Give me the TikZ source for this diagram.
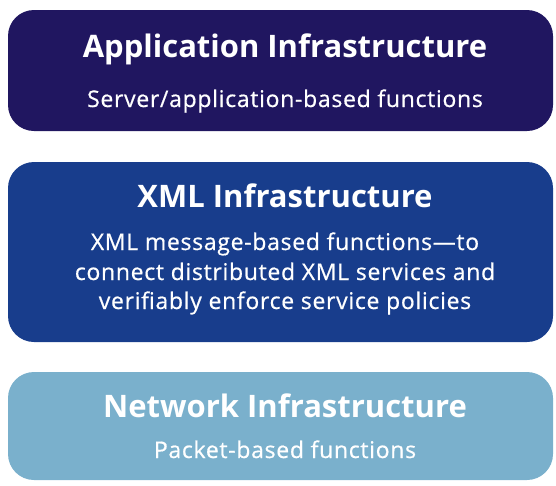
\documentclass[tikz,border=0pt]{standalone}
\usepackage{fontspec}
\setmainfont{Open Sans}
\newfontfamily\descfont[FakeBold=0.6,LetterSpace=3]{Open Sans}
\definecolor{appcol}{HTML}{201660}
\definecolor{xmlcol}{HTML}{183D8C}
\definecolor{netcol}{HTML}{7AB0CC}
\begin{document}
\begin{tikzpicture}[x=1pt,y=-1pt,
  layer/.style={rounded corners=26pt},
  title/.style={text=white,font=\bfseries\fontsize{31}{36}\selectfont,anchor=base,inner sep=0pt},
  sub/.style={text=white,font=\descfont\fontsize{23}{29}\selectfont,anchor=base,inner sep=0pt}]
\useasboundingbox (0,0) rectangle (556,485);
\fill[appcol,layer] (8,10) rectangle (553,131);
\fill[xmlcol,layer] (8,162) rectangle (553,342);
\fill[netcol,layer] (8,372) rectangle (553,480);
% layer titles and descriptions
\node[title] (apt) at (285,57) {Application Infrastructure};
\node[sub] (aps) at (285,107) {Server/application-based functions};
\node[title] (xmt) at (285,207) {XML Infrastructure};
\node[sub] (xms1) at (285,250) {XML message-based functions—to};
\node[sub] (xms2) at (285,280) {connect distributed XML services and};
\node[sub] (xms3) at (285,309) {verifiably enforce service policies};
\node[title] (nwt) at (285,417) {Network Infrastructure};
\node[sub] (nws) at (285,458) {Packet-based functions};
\end{tikzpicture}
\end{document}
